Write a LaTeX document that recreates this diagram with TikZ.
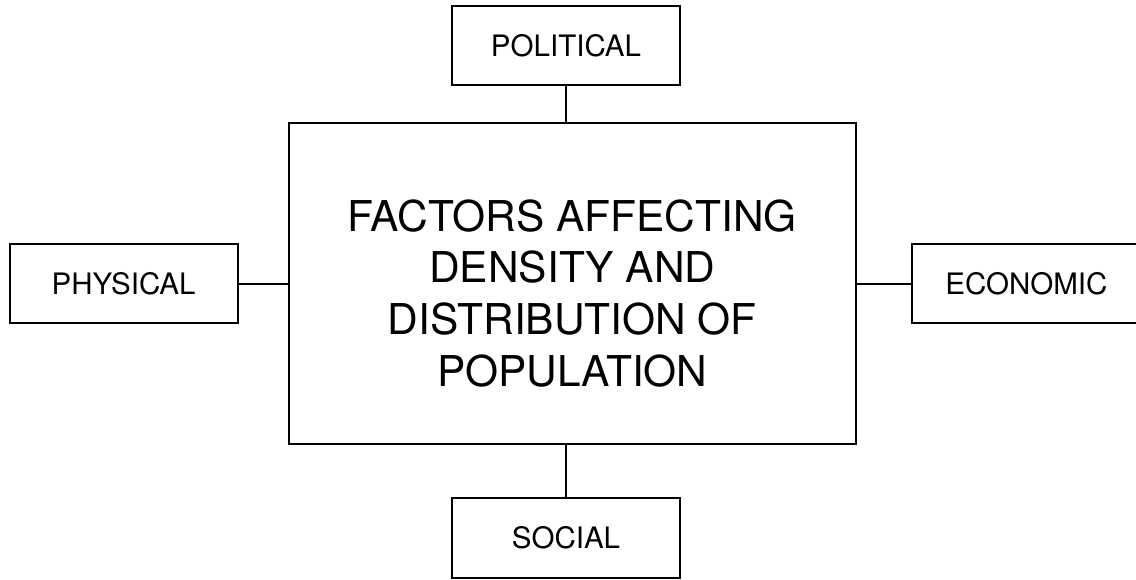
\documentclass[tikz,border=0pt]{standalone}
\usepackage{fontspec}
\setmainfont{TeX Gyre Heros}
\usepackage{tikz}

\begin{document}
\begin{tikzpicture}[line width=1.4pt,
  factor/.style={rectangle, draw, inner sep=0pt, outer sep=0pt, minimum width=5.7cm, minimum height=1.98cm, font=\fontsize{21}{25}\selectfont},
  centrebox/.style={rectangle, draw, inner sep=0pt, outer sep=0pt, minimum width=14.18cm, minimum height=8.03cm},
  centretext/.style={align=center, inner sep=0pt, font=\fontsize{30.2}{36.8}\selectfont}]
\useasboundingbox (0,0) rectangle (28.4,-14.5);
\node [centrebox] (centre) at (14.31,-7.09) {};
\node [centretext] (title) at (14.31,-7.33) {FACTORS AFFECTING\\DENSITY AND\\DISTRIBUTION OF\\POPULATION};
\node [factor] (political) at (14.15,-1.14) {POLITICAL};
\node [factor] (social) at (14.15,-13.45) {SOCIAL};
\node [factor] (physical) at (3.09,-7.09) {PHYSICAL};
\node [factor] (economic) at (25.66,-7.09) {ECONOMIC};

\draw (political) -- (political |- centre.north);
\draw (social) -- (social |- centre.south);
\draw (physical) -- (centre);
\draw (economic) -- (centre);
\end{tikzpicture}
\end{document}
